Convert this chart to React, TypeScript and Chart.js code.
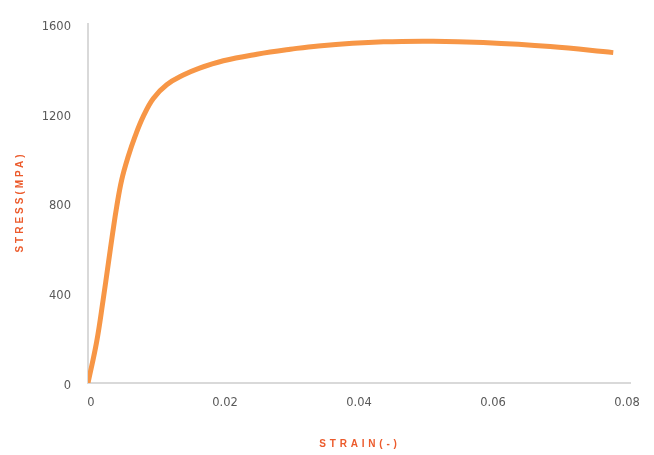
import React, { useEffect, useRef } from "react";
import { Chart, registerables } from "chart.js";

Chart.register(...registerables);

const strain: number[] = [0, 0.0013, 0.00228, 0.003, 0.0037, 0.00428, 0.00503, 0.00601, 0.00701, 0.00825, 0.00975, 0.01175, 0.01422, 0.01646, 0.0202, 0.0252, 0.0302, 0.0344, 0.0441, 0.0515, 0.059, 0.069, 0.0784];
const stress: number[] = [0, 185, 375, 525, 672, 785, 905, 1010, 1098, 1188, 1268, 1329, 1372, 1401, 1436, 1465, 1487, 1502, 1520, 1523, 1517, 1499, 1472];
const xTicks: number[] = [0, 0.02, 0.04, 0.06, 0.08];
const yTicks: number[] = [0, 400, 800, 1200, 1600];
const xTitle = "STRAIN(-)";
const yTitle = "STRESS(MPA)";

const titlePlugin = {
  id: "spacedTitles",
  afterDraw(chart: any) {
    const { ctx } = chart;
    ctx.save();
    ctx.fillStyle = "#EC5B2C";
    ctx.font = "bold 10px 'Liberation Sans', Arial, sans-serif";
    ctx.textAlign = "center";
    ctx.textBaseline = "middle";
    (ctx as any).letterSpacing = "3.8px";
    ctx.fillText(xTitle, 360, 444);
    ctx.translate(20, 202);
    ctx.rotate(-Math.PI / 2);
    (ctx as any).letterSpacing = "3.0px";
    ctx.fillText(yTitle, 0, 0);
    ctx.restore();
  },
};

export default function App() {
  const ref = useRef<HTMLCanvasElement | null>(null);
  useEffect(() => {
    if (!ref.current) return;
    const data = strain.map((x, i) => ({ x, y: stress[i] }));
    const chart = new Chart(ref.current, {
      type: "line",
      data: {
        datasets: [
          {
            data,
            borderColor: "#F79646",
            borderWidth: 5,
            pointRadius: 0,
            fill: false,
            tension: 0.4,
            borderCapStyle: "butt",
            borderJoinStyle: "round",
          },
        ],
      },
      options: {
        animation: false,
        responsive: true,
        maintainAspectRatio: false,
        layout: { padding: { top: 16, right: 24, left: 0, bottom: 0 } },
        plugins: { legend: { display: false }, tooltip: { enabled: false } },
        scales: {
          x: {
            type: "linear",
            min: 0,
            max: 0.0809,
            grid: { display: false, drawTicks: false },
            border: { display: true, color: "#D9D9D9", width: 2 },
            afterBuildTicks: (s: any) => {
              s.ticks = xTicks.map((value) => ({ value }));
            },
            ticks: {
              padding: 13,
              labelOffset: 3,
              color: "#595959",
              font: { family: "'DejaVu Sans', sans-serif", size: 11.5 },
              callback: (v: any) => (Number(v) === 0 ? "0" : Number(v).toFixed(2)),
            },
            afterFit: (s: any) => {
              s.height = 72;
            },
          },
          y: {
            type: "linear",
            min: 0,
            max: 1600,
            grid: { display: false, drawTicks: false },
            border: { display: true, color: "#D9D9D9", width: 2 },
            afterBuildTicks: (s: any) => {
              s.ticks = yTicks.map((value) => ({ value }));
            },
            ticks: {
              padding: 17,
              labelOffset: 3,
              color: "#595959",
              font: { family: "'DejaVu Sans', sans-serif", size: 11.5 },
              callback: (v: any) => String(v),
            },
            afterFit: (s: any) => {
              s.width = 88;
            },
          },
        },
      },
      plugins: [titlePlugin],
    });
    return () => chart.destroy();
  }, []);
  return (
    <div style={{ position: "fixed", left: 0, top: 0, width: 654, height: 455, background: "#fff" }}>
      <canvas ref={ref} />
    </div>
  );
}
